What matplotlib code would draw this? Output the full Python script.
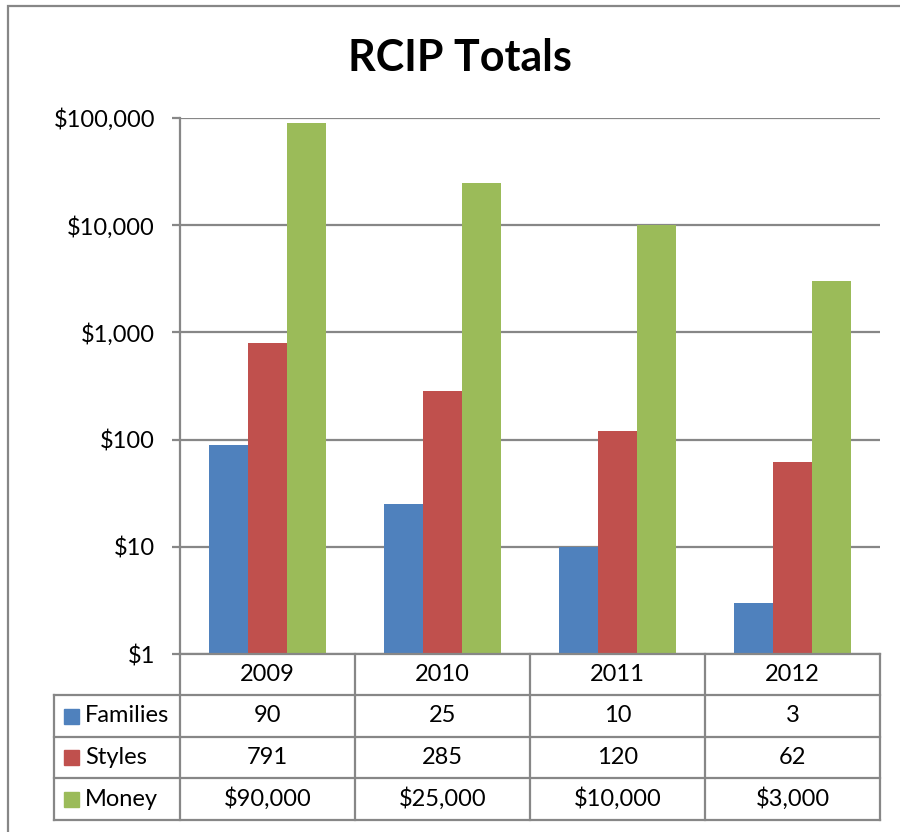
import matplotlib
matplotlib.use('Agg')
import matplotlib.pyplot as plt
import numpy as np
from matplotlib.lines import Line2D
from matplotlib.patches import Rectangle
from matplotlib.ticker import FixedLocator, FixedFormatter

plt.rcParams['font.family'] = ['Lato', 'DejaVu Sans']

# data
years = ['2009', '2010', '2011', '2012']
families = [90, 25, 10, 3]
styles = [791, 285, 120, 62]
money = [90000, 25000, 10000, 3000]
series_names = ['Families', 'Styles', 'Money']
series_colors = ['#4F81BD', '#C0504D', '#9BBB59']
money_labels = ['$90,000', '$25,000', '$10,000', '$3,000']
ytick_vals = [1, 10, 100, 1000, 10000, 100000]
ytick_labels = ['$1', '$10', '$100', '$1,000', '$10,000', '$100,000']

W, H = 900, 832
grid_col = '#878787'

fig = plt.figure(figsize=(W / 100, H / 100), dpi=100)


def fx(x):
    return x / W


def fy(y):
    return 1 - y / H


# outer chart frame (right and bottom edges fall outside the picture)
fig.add_artist(Rectangle((fx(8), fy(850)), fx(910), fy(6) - fy(850),
                         transform=fig.transFigure, fill=False,
                         edgecolor=grid_col, lw=1.6))

# plot area
left, right, top, bottom = 180, 880, 118, 654
ax = fig.add_axes([fx(left), fy(bottom), fx(right - left), fy(top) - fy(bottom)])
ax.set_yscale('log')
ax.set_ylim(1, 100000)
ax.set_xlim(-0.5, len(years) - 0.5)

x = np.arange(len(years))
bw = 39 / 175
for i, (vals, col) in enumerate(zip([families, styles, money], series_colors)):
    ax.bar(x + (i - 1) * bw, vals, width=bw, color=col, zorder=3)

ax.yaxis.set_major_locator(FixedLocator(ytick_vals))
ax.yaxis.set_major_formatter(FixedFormatter(ytick_labels))
ax.yaxis.set_minor_locator(FixedLocator([]))
ax.grid(axis='y', color=grid_col, lw=1.6, zorder=0)
ax.set_xticks([])
for s in ['top', 'right', 'bottom']:
    ax.spines[s].set_visible(False)
ax.spines['left'].set_color(grid_col)
ax.spines['left'].set_linewidth(1.6)
ax.tick_params(axis='y', direction='out', length=6, width=1.6, color=grid_col,
               labelsize=17, pad=12)

# title
fig.text(fx(460), fy(58), 'RCIP Totals', ha='center', va='center',
         fontsize=31, fontweight='bold')

# data table below the plot
col_edges = [left + k * 175 for k in range(len(years) + 1)]
row_edges = [654, 695, 737, 778, 820]
tbl_left = 54


def hline(y, x0, x1):
    fig.add_artist(Line2D([fx(x0), fx(x1)], [fy(y), fy(y)],
                          transform=fig.transFigure, color=grid_col, lw=1.6))


def vline(x0, y0, y1):
    fig.add_artist(Line2D([fx(x0), fx(x0)], [fy(y0), fy(y1)],
                          transform=fig.transFigure, color=grid_col, lw=1.6))


hline(row_edges[0], left, right)
for y in row_edges[1:]:
    hline(y, tbl_left, right)
for xe in col_edges:
    vline(xe, row_edges[0], row_edges[-1])
vline(tbl_left, row_edges[1], row_edges[-1])

fs = 17
for j, yr in enumerate(years):
    cx = (col_edges[j] + col_edges[j + 1]) / 2
    fig.text(fx(cx), fy((row_edges[0] + row_edges[1]) / 2), yr,
             ha='center', va='center', fontsize=fs)

rows = [[str(v) for v in families], [str(v) for v in styles], money_labels]
for r, (name, col, vals) in enumerate(zip(series_names, series_colors, rows)):
    cy = (row_edges[r + 1] + row_edges[r + 2]) / 2
    fig.add_artist(Rectangle((fx(64), fy(cy + 7.5)), fx(15), fy(cy - 7.5) - fy(cy + 7.5),
                             transform=fig.transFigure, color=col))
    fig.text(fx(85), fy(cy), name, ha='left', va='center', fontsize=fs)
    for j, v in enumerate(vals):
        cx = (col_edges[j] + col_edges[j + 1]) / 2
        fig.text(fx(cx), fy(cy), v, ha='center', va='center', fontsize=fs)

plt.savefig('out.png', dpi=100)
